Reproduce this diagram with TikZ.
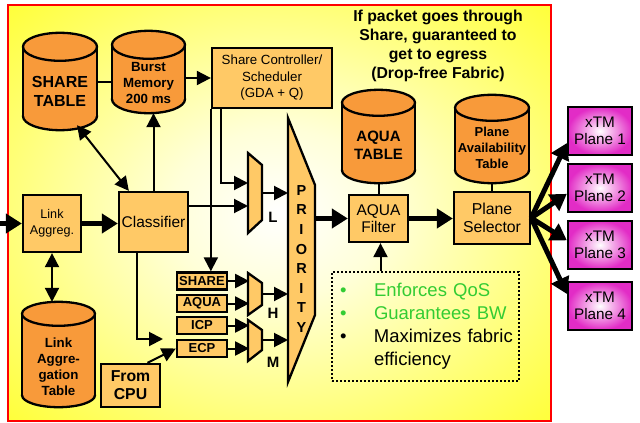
\documentclass[tikz,border=0pt]{standalone}
\usepackage{fontspec}
\setmainfont{Liberation Sans}
\usetikzlibrary{arrows.meta,calc}

\definecolor{boxfill}{HTML}{FFC966}
\definecolor{dbfill}{HTML}{F89A3A}
\definecolor{xtmpink}{HTML}{E22CC6}
\definecolor{qosgreen}{HTML}{33CC33}

\pgfdeclareradialshading{glow}{\pgfpoint{0bp}{0bp}}{color(0bp)=(white); color(10bp)=(yellow!15!white); color(28bp)=(yellow!60!white); color(45bp)=(yellow); color(100bp)=(yellow)}

\tikzset{
  blk/.style={draw, line width=2.3pt, fill=boxfill, align=center, inner sep=1pt},
  dbshape/.style={draw, line width=2.3pt, fill=dbfill},
  dbtxt/.style={align=center, inner sep=0pt},
  tag/.style={blk, font=\bfseries\fontsize{13}{14}\selectfont, minimum width=50pt, minimum height=17pt},
  mux/.style={draw, line width=2.3pt, fill=boxfill, line join=miter},
  xtm/.style={draw, line width=2.3pt, inner color=white, outer color=xtmpink, minimum width=64pt, minimum height=48pt, align=center, font=\fontsize{15.3}{17}\selectfont},
  arr/.style={-{Triangle[length=14pt,width=14pt]}, line width=2pt},
  dbl/.style={{Triangle[length=14pt,width=14pt]}-{Triangle[length=14pt,width=14pt]}, line width=2pt},
  fat/.style={-{Triangle[length=16pt,width=19pt]}, line width=5pt},
  muxlbl/.style={font=\bfseries\fontsize{15}{16}\selectfont}
}

% database cylinder: name, centre, width, height, cap radius
\newcommand{\dbcyl}[5]{%
  \node[minimum width=#3, minimum height=#4, inner sep=0pt] (#1) at (#2) {};
  \filldraw[dbshape] ([yshift=#5]#1.south) ellipse [x radius=#3/2, y radius=#5];
  \fill[dbfill] ([yshift=-#5]#1.north west) rectangle ([yshift=#5]#1.south east);
  \draw[line width=2.3pt] ([yshift=-#5]#1.north west) -- ([yshift=#5]#1.south west)
    ([yshift=-#5]#1.north east) -- ([yshift=#5]#1.south east);
  \filldraw[dbshape] ([yshift=-#5]#1.north) ellipse [x radius=#3/2, y radius=#5];
}

\begin{document}
\begin{tikzpicture}[x=1pt,y=-1pt]
  \useasboundingbox (0,0) rectangle (640,423);
  \shade[shading=glow, draw=red, line width=2pt] (8,5) rectangle (551,421);

  % tables and blocks
  \node[font=\bfseries\fontsize{15.8}{19}\selectfont, align=center] (title) at (438,46) {If packet goes through\\Share, guaranteed to\\get to egress\\(Drop-free Fabric)};
  \dbcyl{sharetab}{60,81.5}{74pt}{97pt}{14pt}
  \node[dbtxt, font=\bfseries\fontsize{16}{19}\selectfont] (sharetab-t) at ([yshift=-9.5pt]sharetab.center) {SHARE\\TABLE};
  \dbcyl{burst}{148.5,72}{73pt}{82pt}{14pt}
  \node[dbtxt, font=\bfseries\fontsize{13.3}{16}\selectfont] (burst-t) at ([yshift=-11pt]burst.center) {Burst\\Memory\\200 ms};
  \node[blk, minimum width=120pt, minimum height=60pt, font=\fontsize{13.3}{16.5}\selectfont] (ctrl) at (272,78) {Share Controller/\\Scheduler\\(GDA + Q)};
  \node[blk, minimum width=69pt, minimum height=60pt, font=\fontsize{15.5}{17}\selectfont] (clsf) at (153.5,222) {Classifier};
  \node[blk, minimum width=58pt, minimum height=57pt, font=\fontsize{12.6}{16}\selectfont] (linkag) at (52,223.5) {Link\\Aggreg.};
  \dbcyl{latab}{58.5,354.5}{73pt}{105pt}{12pt}
  \node[dbtxt, font=\bfseries\fontsize{13.3}{16}\selectfont] (latab-t) at ([yshift=-12pt]latab.center) {Link\\Aggre-\\gation\\Table};
  \node[blk, minimum width=59pt, minimum height=43pt, font=\bfseries\fontsize{15.8}{18}\selectfont] (cpu) at (130.5,385.5) {From\\CPU};

  \node[tag] (share) at (202,281) {SHARE};
  \node[tag] (aqua) at (202,303.5) {AQUA};
  \node[tag] (icp) at (202,325.5) {ICP};
  \node[tag] (ecp) at (202,348.5) {ECP};

  \dbcyl{aqtab}{378.5,136.5}{73pt}{93pt}{13pt}
  \node[dbtxt, font=\bfseries\fontsize{15}{18}\selectfont] (aqtab-t) at ([yshift=-8.5pt]aqtab.center) {AQUA\\TABLE};
  \node[blk, minimum width=59pt, minimum height=47pt, font=\fontsize{15.5}{17}\selectfont] (aqf) at (378.5,218.5) {AQUA\\Filter};
  \dbcyl{patab}{492,139}{74pt}{88pt}{13pt}
  \node[dbtxt, font=\bfseries\fontsize{13}{16}\selectfont] (patab-t) at ([yshift=-9pt]patab.center) {Plane\\Availability\\Table};
  \node[blk, minimum width=76pt, minimum height=52pt, font=\fontsize{15.8}{18}\selectfont] (sel) at (492,218) {Plane\\Selector};

  \node[xtm] (xtm1) at (600,131) {xTM\\Plane 1};
  \node[xtm] (xtm2) at (600,188) {xTM\\Plane 2};
  \node[xtm] (xtm3) at (600,245) {xTM\\Plane 3};
  \node[xtm] (xtm4) at (600,306) {xTM\\Plane 4};

  \node[draw, dotted, line width=2pt, minimum width=187pt, minimum height=109pt, text width=171pt, inner xsep=8pt, align=left, font=\fontsize{18.5}{22.7}\selectfont] (notes) at (425.5,326.5)
    {\begin{tabular}{@{}p{34pt}@{}l@{}}
      \textcolor{qosgreen}{\textbullet} & \textcolor{qosgreen}{Enforces QoS}\\
      \textcolor{qosgreen}{\textbullet} & \textcolor{qosgreen}{Guarantees BW}\\
      \textbullet & Maximizes fabric\\
      & efficiency
    \end{tabular}};

  % muxes
  \draw[mux] (248,153) coordinate (L-top) -- (262,165) -- (262,220) -- (248,233) -- cycle;
  \coordinate (L-in1) at (248,183);
  \coordinate (L-in2) at (248,206);
  \coordinate (L-out) at (262,193);
  \draw[mux] (248,273) -- (262,283) -- (262,305) -- (248,315) -- cycle;
  \coordinate (H-out) at (262,294);
  \draw[mux] (248,320) -- (262,330) -- (262,350) -- (248,361) -- cycle;
  \coordinate (M-out) at (262,340);
  \node[muxlbl] (lblL) at (273,217) {L};
  \node[muxlbl] (lblH) at (273,313) {H};
  \node[muxlbl] (lblM) at (273,362) {M};

  % priority
  \draw[mux] (288,118) coordinate (p-top) -- (315,185) -- (315,315) -- (288,382) -- cycle;
  \coordinate (p-out) at (315,218.5);
  \node[font=\bfseries\fontsize{14.5}{19.6}\selectfont, align=center] (prio) at (301.5,259) {P\\R\\I\\O\\R\\I\\T\\Y};

  % connections
  \coordinate (in) at (0,223.5);
  \coordinate (cpu-in) at (163,339);
  \draw[fat] (in) -- (linkag.west);
  \draw[fat] (linkag.east) -- (linkag.east -| clsf.west);
  \draw[dbl] (linkag.south) -- (linkag.south |- latab.north);
  \draw[line width=2pt] (sharetab.east) -- (sharetab.east -| burst.west);
  \draw[arr] (burst.east |- ctrl.west) -- (ctrl.west);
  \draw[arr] (clsf.north) -- (clsf.north |- burst.south);
  \draw[dbl] ([xshift=17pt,yshift=5pt]sharetab.south) -- ([xshift=11pt]clsf.north west);
  \draw[arr] ([xshift=-16.5pt]clsf.south) |- (cpu-in);
  \draw[arr] ([xshift=17pt]cpu.north) -- (ecp.west);
  \draw[arr] (ctrl.south west) -- (ctrl.south west |- share.north);
  \draw[arr] ([xshift=10pt]ctrl.south west) |- (L-in1);
  \draw[arr] (clsf.east |- L-in2) -- (L-in2);
  \foreach \t in {share,aqua,icp,ecp}
    \draw[arr] (\t.east) -- ++(21,0);
  \foreach \m in {L,H,M}
    \draw[arr] (\m-out) -- (\m-out -| p-top);
  \draw[fat] (p-out) -- (aqf.west);
  \draw[line width=2pt] (aqtab.south) -- (aqf.north);
  \draw[fat] (aqf.east) -- (aqf.east -| sel.west);
  \draw[line width=2pt] (patab.south) -- (patab.south |- sel.north);
  \draw[arr] ([xshift=-45pt]notes.north) -- ([xshift=-45pt]notes.north |- aqf.south);
  \foreach \i/\a in {1/200,2/190,3/172,4/160}
    \draw[fat] (sel.east) -- (xtm\i.\a);
\end{tikzpicture}
\end{document}
